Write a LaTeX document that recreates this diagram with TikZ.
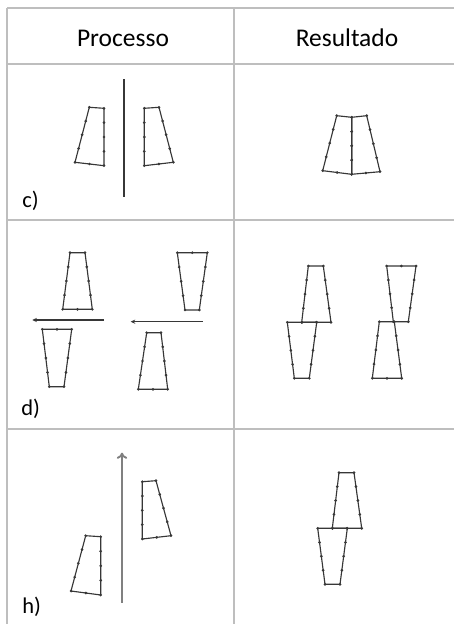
\documentclass[tikz,border=0pt]{standalone}
\usepackage{fontspec}
\setmainfont{Carlito}
\usetikzlibrary{calc,arrows.meta}
\definecolor{grid}{RGB}{190,190,190}
\definecolor{ink}{RGB}{55,55,55}
\tikzset{
 piece/.style={ink,line width=0.65pt,line join=round},
 dotc/.style={ink},
 rule/.style={grid,line width=0.6pt},
 lab/.style={anchor=base west,inner sep=0pt,font=\fontsize{12.8}{14}\selectfont},
 head/.style={anchor=base,inner sep=0pt,font=\fontsize{14.5}{16}\selectfont}
}
% one piece: a-b narrow side, c-d wide side
\newcommand{\trapez}[1]{%
\draw[piece] (#1-a)--(#1-b)--(#1-c)--(#1-d)--cycle;
\foreach \p in {a,b,c,d} \fill[dotc] (#1-\p) circle(0.85pt);
\foreach \t in {0.25,0.5,0.75}
 \fill[dotc] ($(#1-b)!\t!(#1-c)$) circle(0.85pt) ($(#1-d)!\t!(#1-a)$) circle(0.85pt);
\fill[dotc] ($(#1-c)!0.5!(#1-d)$) circle(0.85pt);
}
\begin{document}
\begin{tikzpicture}[x=0.02cm,y=-0.02cm]
\useasboundingbox (0,0) rectangle (454,624);
% table
\path
(7,8) coordinate (T0) (454,8) coordinate (T1)
(7,624) coordinate (B0) (234,8) coordinate (M0) (234,624) coordinate (M1)
(7,64) coordinate (H0) (454,64) coordinate (H1)
(7,220) coordinate (R0) (454,220) coordinate (R1)
(7,429) coordinate (S0) (454,429) coordinate (S1)
;
\draw[rule] (T0)--(T1) (T0)--(B0) (M0)--(M1) (H0)--(H1) (R0)--(R1) (S0)--(S1);
\node[head] (proc) at (123,46.5) {Processo};
\node[head] (res) at (347,46.5) {Resultado};
\node[lab] (lc) at (22,208) {c)};
\node[lab] (ld) at (21,415) {d)};
\node[lab] (lh) at (22,613) {h)};
% row c
\path
(89.3,107.3) coordinate (cL-a) (104,108.3) coordinate (cL-b)
(104,165.7) coordinate (cL-c) (75,162.3) coordinate (cL-d)
(144.3,108.3) coordinate (cR-a) (159,107.3) coordinate (cR-b)
(173.3,162.3) coordinate (cR-c) (144.3,165.7) coordinate (cR-d)
(336.7,115.7) coordinate (cS-a) (351.7,117.3) coordinate (cS-b)
(351.7,174.3) coordinate (cS-c) (322.7,170.7) coordinate (cS-d)
(351.7,117.3) coordinate (cT-a) (366.7,115.7) coordinate (cT-b)
(380,171.7) coordinate (cT-c) (351.7,174.3) coordinate (cT-d)
(124,79.3) coordinate (m0) (124,197.3) coordinate (m1)
;
\draw[ink,line width=0.8pt] (m0)--(m1);
% row d
\path
(70,252.7) coordinate (dA-a) (85,252.7) coordinate (dA-b)
(92.3,309.3) coordinate (dA-c) (62.7,309.3) coordinate (dA-d)
(49.3,386.7) coordinate (dB-a) (64,386.7) coordinate (dB-b)
(71.7,329.3) coordinate (dB-c) (42.3,329.3) coordinate (dB-d)
(185,310) coordinate (dC-a) (199.3,310) coordinate (dC-b)
(207.3,252.7) coordinate (dC-c) (177.3,252.7) coordinate (dC-d)
(146.7,332.7) coordinate (dD-a) (161,332.7) coordinate (dD-b)
(167.7,389.3) coordinate (dD-c) (138.3,389.3) coordinate (dD-d)
(308.3,266) coordinate (eA-a) (323.3,266) coordinate (eA-b)
(331,322.3) coordinate (eA-c) (301.7,322.3) coordinate (eA-d)
(294.3,378.3) coordinate (eB-a) (309.3,378.3) coordinate (eB-b)
(316.7,322.3) coordinate (eB-c) (287.3,322.3) coordinate (eB-d)
(393.3,321.7) coordinate (eC-a) (408.3,321.7) coordinate (eC-b)
(416,266) coordinate (eC-c) (386.7,266) coordinate (eC-d)
(379.3,321.7) coordinate (eD-a) (394.3,321.7) coordinate (eD-b)
(401.7,378.3) coordinate (eD-c) (372.3,378.3) coordinate (eD-d)
(104,320) coordinate (p0) (32.3,320) coordinate (p1)
(202.7,321.7) coordinate (q0) (130.7,321.7) coordinate (q1)
;
\draw[ink,line width=0.7pt,-{Stealth[length=2.6pt,width=2.4pt]}] (p0)--(p1);
\draw[ink,line width=0.7pt,-{Stealth[length=2.6pt,width=2.4pt]}] (q0)--(q1);
% row h
\path
(85.7,535.7) coordinate (hA-a) (100.7,536.7) coordinate (hA-b)
(100.7,595) coordinate (hA-c) (71,591) coordinate (hA-d)
(142.3,481.7) coordinate (hB-a) (156,480.7) coordinate (hB-b)
(171,535.7) coordinate (hB-c) (142.3,539) coordinate (hB-d)
(339,472.7) coordinate (iA-a) (354,472.7) coordinate (iA-b)
(361.7,528.3) coordinate (iA-c) (332.3,528.3) coordinate (iA-d)
(325,584.3) coordinate (iB-a) (340,584.3) coordinate (iB-b)
(347.3,528.3) coordinate (iB-c) (317.7,528.3) coordinate (iB-d)
(122,602.7) coordinate (v0) (122,452.7) coordinate (v1)
;
\draw[gray,line width=1.1pt,-{To[length=3.5pt,width=6pt]}] (v0)--(v1);
\foreach \x in {cL,cR,cS,cT,dA,dB,dC,dD,eA,eB,eC,eD,hA,hB,iA,iB}
\trapez{\x};
\end{tikzpicture}
\end{document}
